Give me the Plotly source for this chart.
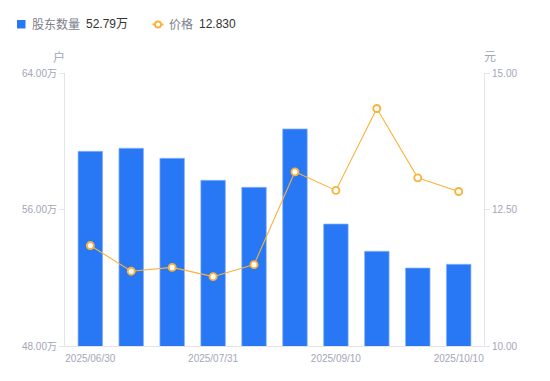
import plotly.graph_objects as go

# ---- data ----
dates = ["2025/06/30", "2025/07/10", "2025/07/20", "2025/07/31", "2025/08/20",
         "2025/08/31", "2025/09/10", "2025/09/19", "2025/09/30", "2025/10/10"]
holders_wan = [59.41, 59.59, 59.00, 57.71, 57.30, 60.72, 55.15, 53.55, 52.57, 52.79]
price = [11.84, 11.37, 11.44, 11.27, 11.49, 13.19, 12.85, 14.35, 13.08, 12.83]
left_ticks = [48, 56, 64]
right_ticks = [10.0, 12.5, 15.0]
shown_dates = [dates[0], dates[3], dates[6], dates[9]]

# ---- layout geometry (pixels) ----
W, H = 550, 381
L, R, T, B = 65, 484, 73, 346


def px(x):
    return (x - L) / (R - L)


def py(y):
    return (B - y) / (B - T)


BLUE = "#2878F5"
ORANGE = "#FAB23A"
TICKC = "#A3A6B8"
AXC = "#E3E3E8"
FONT = "Liberation Sans, Arial, Noto Sans CJK SC, sans-serif"

fig = go.Figure()
fig.add_trace(go.Bar(
    x=dates, y=holders_wan, name="股东数量",
    marker=dict(color=BLUE, line=dict(color="rgba(140,180,250,0.9)", width=0.8)),
    yaxis="y", showlegend=False, hoverinfo="skip",
))
fig.add_trace(go.Scatter(
    x=dates, y=price, name="价格", mode="lines+markers",
    line=dict(color=ORANGE, width=1.1),
    marker=dict(symbol="circle", size=7, color="white",
                line=dict(color=ORANGE, width=1.9)),
    yaxis="y2", showlegend=False, hoverinfo="skip",
))

fig.update_layout(
    width=W, height=H,
    margin=dict(l=L, r=W - R, t=T, b=H - B),
    paper_bgcolor="white", plot_bgcolor="white",
    font=dict(family=FONT, size=10, color=TICKC),
    bargap=0.4,
    xaxis=dict(
        type="category", tickvals=shown_dates, ticktext=shown_dates,
        showline=True, linecolor=AXC, linewidth=1, ticks="",
        ticklabelstandoff=3,
        showgrid=False, zeroline=False, fixedrange=True,
        tickfont=dict(size=10, color=TICKC),
    ),
    yaxis=dict(
        range=[left_ticks[0], left_ticks[-1]], tickvals=left_ticks,
        ticktext=[f"{v:.2f}万" for v in left_ticks],
        showline=True, linecolor=AXC, linewidth=1,
        ticks="outside", ticklen=5, tickcolor=AXC, tickwidth=1,
        showgrid=False, zeroline=False, fixedrange=True,
        tickfont=dict(size=10, color=TICKC),
    ),
    yaxis2=dict(
        range=[right_ticks[0], right_ticks[-1]], tickvals=right_ticks,
        ticktext=[f"{v:.2f}" for v in right_ticks],
        overlaying="y", side="right",
        showline=True, linecolor=AXC, linewidth=1,
        ticks="outside", ticklen=5, tickcolor=AXC, tickwidth=1,
        showgrid=False, zeroline=False, fixedrange=True,
        tickfont=dict(size=10, color=TICKC),
    ),
)

# axis unit labels
fig.add_annotation(text="户", x=px(59), y=py(57), xref="paper", yref="paper",
                   showarrow=False, font=dict(size=12, color=TICKC),
                   xanchor="center", yanchor="middle")
fig.add_annotation(text="元", x=px(490), y=py(57), xref="paper", yref="paper",
                   showarrow=False, font=dict(size=12, color=TICKC),
                   xanchor="center", yanchor="middle")

# legend (custom)
fig.add_shape(type="rect", xref="paper", yref="paper",
              x0=px(17), x1=px(25.5), y0=py(28.5), y1=py(20),
              fillcolor=BLUE, line=dict(width=0))
fig.add_annotation(text="股东数量", x=px(30), y=py(24.5), xref="paper", yref="paper",
                   showarrow=False, xanchor="left", yanchor="middle",
                   font=dict(size=12, color="#7B7E8C"))
fig.add_annotation(text=f"{holders_wan[-1]:.2f}万", x=px(84), y=py(24.5),
                   xref="paper", yref="paper", showarrow=False,
                   xanchor="left", yanchor="middle",
                   font=dict(size=12, color="#333333"))
fig.add_shape(type="line", xref="paper", yref="paper",
              x0=px(152.5), x1=px(163.5), y0=py(24.5), y1=py(24.5),
              line=dict(color=ORANGE, width=2))
fig.add_shape(type="circle", xref="paper", yref="paper",
              x0=px(155), x1=px(161), y0=py(27.5), y1=py(21.5),
              fillcolor="white", line=dict(color=ORANGE, width=1.8))
fig.add_annotation(text="价格", x=px(167), y=py(24.5), xref="paper", yref="paper",
                   showarrow=False, xanchor="left", yanchor="middle",
                   font=dict(size=12, color="#7B7E8C"))
fig.add_annotation(text=f"{price[-1]:.3f}", x=px(197), y=py(24.5),
                   xref="paper", yref="paper", showarrow=False,
                   xanchor="left", yanchor="middle",
                   font=dict(size=12, color="#333333"))

fig.write_html("out.html", config={"displayModeBar": False},
               post_script="document.body.style.margin='0';document.body.style.overflow='hidden';")
